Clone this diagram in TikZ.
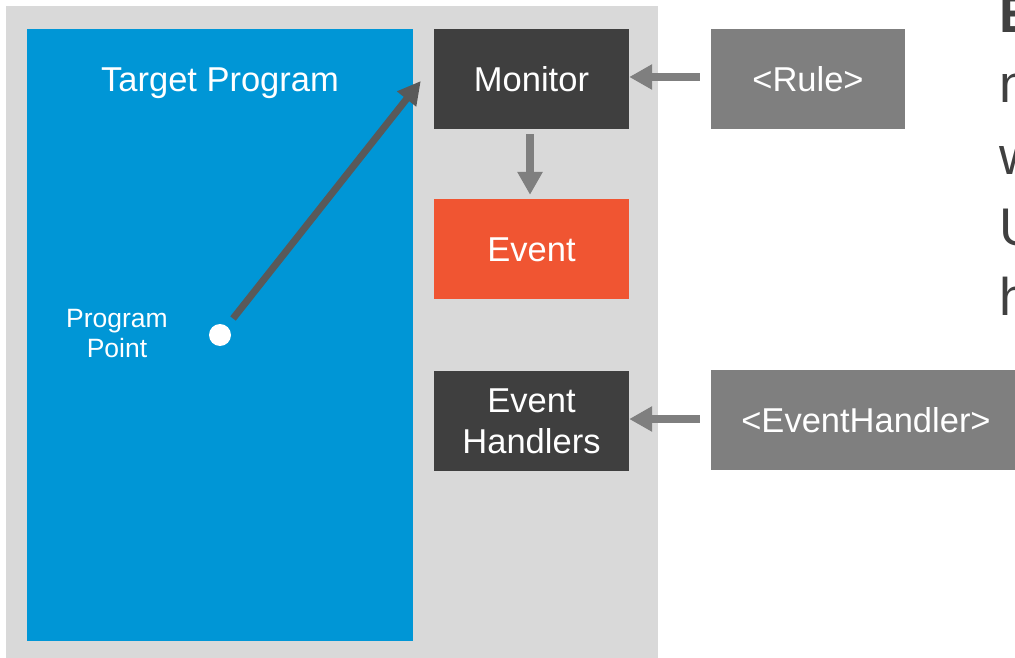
\documentclass[tikz,border=0pt]{standalone}
\usepackage{fontspec}
\setmainfont{Liberation Sans}
\usetikzlibrary{arrows.meta}

\definecolor{panelgray}{HTML}{D9D9D9}
\definecolor{progblue}{HTML}{0096D6}
\definecolor{darkbox}{HTML}{3F3F3F}
\definecolor{eventorange}{HTML}{F05532}
\definecolor{midgray}{HTML}{7F7F7F}
\definecolor{arrowdark}{HTML}{595959}
\definecolor{bodytext}{HTML}{404040}

\begin{document}
\begin{tikzpicture}[x=1pt,y=-1pt,
  boxfont/.style={font=\fontsize{34.5}{41}\selectfont},
  box/.style={rectangle, inner sep=0pt, minimum width=195pt, minimum height=100pt,
    text=white, boxfont, align=center},
  oneline/.style={text height=24.7pt, text depth=0pt},
  feed/.style={-{Triangle[length=23pt,width=24pt]}, line width=8pt, draw=midgray},
  probe/.style={-{Triangle[length=23pt,width=23pt]}, line width=7pt, draw=arrowdark},
  bodyline/.style={anchor=base west, inner sep=0pt, text=bodytext,
    font=\fontsize{53}{60}\selectfont}
]
\useasboundingbox (0,0) rectangle (1015,658);
\clip (0,0) rectangle (1015,658);

% grey panel and the program area
\fill[panelgray] (6,6) rectangle (658,662);
\node[fill=progblue, inner sep=0pt, minimum width=386pt, minimum height=612pt,
  anchor=north west] (prog) at (27,29) {};
\node[anchor=base, text=white, boxfont] (title) at (220,92) {Target Program};

% program point
\node[circle, fill=white, inner sep=0pt, minimum size=22pt] (pp) at (220,335) {};
\node[text=white, font=\fontsize{26.5}{30}\selectfont, align=center, inner sep=0pt]
  (pplabel) at (117,333.5) {Program\\Point};

% monitor column
\node[box, oneline, fill=darkbox] (monitor) at (531.5,79) {Monitor};
\node[box, oneline, fill=eventorange] (event) at (531.5,249) {Event};
\node[box, fill=darkbox] (handlers) at (531.5,421) {Event\\Handlers};

% inputs
\node[box, oneline, fill=midgray, minimum width=194pt] (rule) at (808,79) {<Rule>};
\node[box, oneline, fill=midgray, minimum width=310pt] (ehandler) at (866,420) {<EventHandler>};

% connectors
\draw[probe, shorten <=21pt] (pp.center) -- ([xshift=-13pt,yshift=-2pt]monitor.west);
\draw[feed, shorten <=11pt] ([yshift=2pt]rule.west) -- ([yshift=2pt]monitor.east);
\draw[feed, shorten <=5pt, shorten >=4pt] ([xshift=-1.5pt]monitor.south) -- ([xshift=-1.5pt]event.north);
\draw[feed, shorten <=11pt] ([yshift=1pt]ehandler.west) -- ([yshift=1pt]ehandler.west -| handlers.east);

% body text at the right edge
\node[bodyline, font=\fontsize{53}{60}\selectfont\bfseries] (l1) at (999,33) {E};
\node[bodyline] (l2) at (999,103) {n};
\node[bodyline] (l3) at (999,175) {w};
\node[bodyline] (l4) at (999,245) {U};
\node[bodyline] (l5) at (999,315) {h};
\end{tikzpicture}
\end{document}
